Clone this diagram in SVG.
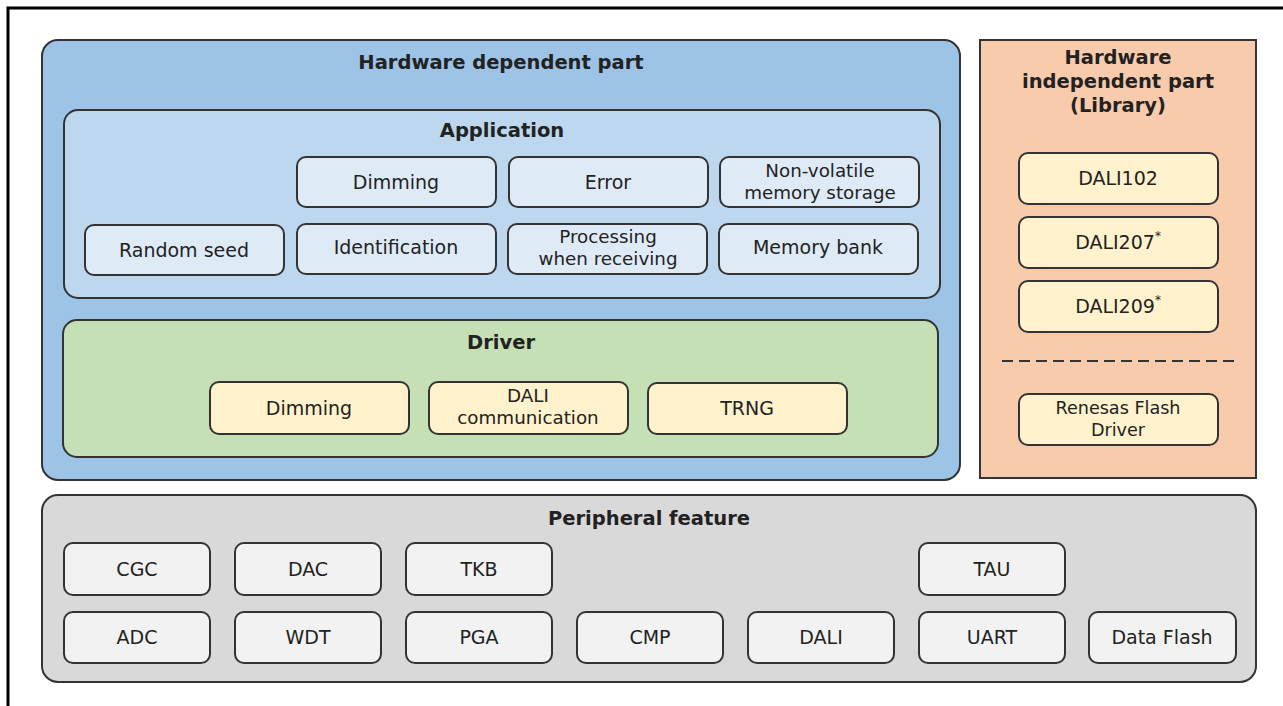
<svg xmlns="http://www.w3.org/2000/svg" width="1283" height="706" viewBox="0 0 1283 706">
<style>
text{font-family:"DejaVu Sans","Noto Sans",sans-serif;fill:#222;text-anchor:middle}
.t{font-weight:bold;font-size:19.5px}
.l{font-size:19px}
.s{font-size:18.3px}
.grp{stroke:#333;stroke-width:2}
.box{stroke:#333;stroke-width:2}
.app{fill:#deebf7}
.drv{fill:#fff2cc}
.per{fill:#f2f2f2}
</style>
<rect x="0" y="0" width="1283" height="706" fill="#ffffff"/>
<path d="M8 706 V8 H1283" fill="none" stroke="#000" stroke-width="3"/>
<g id="hw-dependent">
<rect class="grp" x="42" y="40" width="918" height="440" rx="16" fill="#9dc3e6"/>
<text class="t" x="501" y="69">Hardware dependent part</text>
</g>
<g id="application">
<rect class="grp" x="64" y="110" width="876" height="188" rx="14" fill="#bdd7ee"/>
<text class="t" x="502" y="137">Application</text>
</g>
<g id="app-dimming"><rect class="box app" x="297" y="157" width="199" height="50" rx="9"/><text class="l" x="396" y="189">Dimming</text></g>
<g id="app-error"><rect class="box app" x="509" y="157" width="199" height="50" rx="9"/><text class="l" x="608" y="189">Error</text></g>
<g id="app-nonvolatile"><rect class="box app" x="720" y="157" width="199" height="50" rx="9"/><text class="s" x="820" y="177">Non-volatile</text><text class="s" x="820" y="199">memory storage</text></g>
<g id="app-random"><rect class="box app" x="85" y="225" width="199" height="50" rx="9"/><text class="l" x="184" y="257">Random seed</text></g>
<g id="app-ident"><rect class="box app" x="297" y="224" width="199" height="50" rx="9"/><text class="l" x="396" y="254">Identification</text></g>
<g id="app-processing"><rect class="box app" x="508" y="224" width="199" height="50" rx="9"/><text class="s" x="608" y="243">Processing</text><text class="s" x="608" y="265">when receiving</text></g>
<g id="app-membank"><rect class="box app" x="719" y="224" width="199" height="50" rx="9"/><text class="l" x="818" y="254">Memory bank</text></g>
<g id="driver">
<rect class="grp" x="63" y="320" width="875" height="137" rx="14" fill="#c5e0b4"/>
<text class="t" x="501" y="349">Driver</text>
</g>
<g id="drv-dimming"><rect class="box drv" x="210" y="382" width="199" height="52" rx="9"/><text class="l" x="309" y="415">Dimming</text></g>
<g id="drv-dali"><rect class="box drv" x="429" y="382" width="199" height="52" rx="9"/><text class="s" x="528" y="402">DALI</text><text class="s" x="528" y="424">communication</text></g>
<g id="drv-trng"><rect class="box drv" x="648" y="383" width="199" height="51" rx="9"/><text class="l" x="747" y="415">TRNG</text></g>
<g id="hw-independent">
<rect class="grp" x="980" y="40" width="276" height="438" fill="#f8cbad"/>
<text class="t" x="1118" y="64">Hardware</text>
<text class="t" x="1118" y="88">independent part</text>
<text class="t" x="1118" y="112">(Library)</text>
<line x1="1002" y1="361" x2="1237" y2="361" stroke="#333" stroke-width="2" stroke-dasharray="11,6"/>
</g>
<g id="lib-dali102"><rect class="box drv" x="1019" y="153" width="199" height="51" rx="9"/><text class="l" x="1118" y="185">DALI102</text></g>
<g id="lib-dali207"><rect class="box drv" x="1019" y="217" width="199" height="51" rx="9"/><text class="l" x="1118" y="249">DALI207<tspan font-size="12" dy="-9">*</tspan></text></g>
<g id="lib-dali209"><rect class="box drv" x="1019" y="281" width="199" height="51" rx="9"/><text class="l" x="1118" y="313">DALI209<tspan font-size="12" dy="-9">*</tspan></text></g>
<g id="lib-flash"><rect class="box drv" x="1019" y="394" width="199" height="51" rx="9"/><text class="s" x="1118" y="414" font-size="17.6px" style="font-size:17.6px">Renesas Flash</text><text class="s" x="1118" y="436" style="font-size:17.6px">Driver</text></g>
<g id="peripheral">
<rect class="grp" x="42" y="495" width="1214" height="187" rx="16" fill="#d9d9d9"/>
<text class="t" x="649" y="525">Peripheral feature</text>
</g>
<g id="p-cgc"><rect class="box per" x="64" y="543" width="146" height="52" rx="9"/><text class="l" x="137" y="576">CGC</text></g>
<g id="p-dac"><rect class="box per" x="235" y="543" width="146" height="52" rx="9"/><text class="l" x="308" y="576">DAC</text></g>
<g id="p-tkb"><rect class="box per" x="406" y="543" width="146" height="52" rx="9"/><text class="l" x="479" y="576">TKB</text></g>
<g id="p-tau"><rect class="box per" x="919" y="543" width="146" height="52" rx="9"/><text class="l" x="992" y="576">TAU</text></g>
<g id="p-adc"><rect class="box per" x="64" y="612" width="146" height="51" rx="9"/><text class="l" x="137" y="644">ADC</text></g>
<g id="p-wdt"><rect class="box per" x="235" y="612" width="146" height="51" rx="9"/><text class="l" x="308" y="644">WDT</text></g>
<g id="p-pga"><rect class="box per" x="406" y="612" width="146" height="51" rx="9"/><text class="l" x="479" y="644">PGA</text></g>
<g id="p-cmp"><rect class="box per" x="577" y="612" width="146" height="51" rx="9"/><text class="l" x="650" y="644">CMP</text></g>
<g id="p-dali"><rect class="box per" x="748" y="612" width="146" height="51" rx="9"/><text class="l" x="821" y="644">DALI</text></g>
<g id="p-uart"><rect class="box per" x="919" y="612" width="146" height="51" rx="9"/><text class="l" x="992" y="644">UART</text></g>
<g id="p-dataflash"><rect class="box per" x="1089" y="612" width="147" height="51" rx="9"/><text class="l" x="1162" y="644">Data Flash</text></g>
<g id="connectors"></g>
</svg>
